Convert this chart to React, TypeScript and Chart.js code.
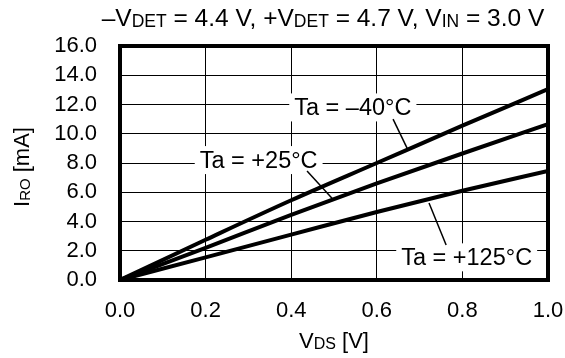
import React, { useEffect, useRef } from "react";
import { Chart, registerables } from "chart.js";

Chart.register(...registerables);

const vds = [0, 0.2, 0.4, 0.6, 0.8, 1.0];
const iroM40 = [0, 2.75, 5.45, 8.0, 10.55, 13.05];
const iroP25 = [0, 2.2, 4.45, 6.6, 8.65, 10.65];
const iroP125 = [0, 1.55, 3.1, 4.65, 6.1, 7.45];

const xTicks = [0, 0.2, 0.4, 0.6, 0.8, 1.0];
const yTicks = [0, 2, 4, 6, 8, 10, 12, 14, 16];

// label text, label centre (V, mA), leader start (V, mA), leader end (V, mA)
const labelTexts = ["Ta = \u201340\u00b0C", "Ta = +25\u00b0C", "Ta = +125\u00b0C"];
const labelCenters = [[0.544, 11.8], [0.324, 8.2], [0.81, 1.55]];
const leaderStarts = [[0.638, 11.0], [0.437, 7.45], [0.722, 5.26]];
const leaderEnds = [[0.671, 9.0], [0.498, 5.5], [0.762, 2.39]];

const FONT = '"Liberation Sans", Arial, Helvetica, sans-serif';

type Part = { t: string; sub?: boolean };
const titleParts: Part[] = [
  { t: "\u2013V" }, { t: "DET", sub: true }, { t: " = 4.4 V, +V" }, { t: "DET", sub: true },
  { t: " = 4.7 V, V" }, { t: "IN", sub: true }, { t: " = 3.0 V" },
];
const xTitleParts: Part[] = [{ t: "V" }, { t: "DS", sub: true }, { t: " [V]" }];
const yTitleParts: Part[] = [{ t: "I" }, { t: "RO", sub: true }, { t: " [mA]" }];

function drawParts(ctx: CanvasRenderingContext2D, parts: Part[], cx: number, baseline: number, size: number, subSize: number) {
  const widths = parts.map((p) => {
    ctx.font = `${p.sub ? subSize : size}px ${FONT}`;
    return ctx.measureText(p.t).width;
  });
  const total = widths.reduce((a, b) => a + b, 0);
  let x = cx - total / 2;
  ctx.textAlign = "left";
  ctx.textBaseline = "alphabetic";
  parts.forEach((p, i) => {
    ctx.font = `${p.sub ? subSize : size}px ${FONT}`;
    ctx.fillText(p.t, x, baseline + (p.sub ? 1 : 0));
    x += widths[i];
  });
}

const decorPlugin = {
  id: "decor",
  afterDatasetsDraw(chart: any) {
    const ctx: CanvasRenderingContext2D = chart.ctx;
    const xs = chart.scales.x;
    const ys = chart.scales.y;
    const ca = chart.chartArea;
    ctx.save();
    ctx.fillStyle = "#000";
    ctx.strokeStyle = "#000";
    // annotations
    labelTexts.forEach((txt, i) => {
      ctx.font = `23.5px ${FONT}`;
      const w = ctx.measureText(txt).width;
      const cx = xs.getPixelForValue(labelCenters[i][0]);
      const cy = ys.getPixelForValue(labelCenters[i][1]);
      ctx.fillStyle = "#fff";
      ctx.fillRect(cx - w / 2 - 5, cy - 14, w + 10, 28);
      ctx.fillStyle = "#000";
      ctx.textAlign = "center";
      ctx.textBaseline = "middle";
      ctx.fillText(txt, cx, cy + 1);
      ctx.lineWidth = 1.5;
      ctx.beginPath();
      ctx.moveTo(xs.getPixelForValue(leaderStarts[i][0]), ys.getPixelForValue(leaderStarts[i][1]));
      ctx.lineTo(xs.getPixelForValue(leaderEnds[i][0]), ys.getPixelForValue(leaderEnds[i][1]));
      ctx.stroke();
    });
    // frame
    ctx.lineWidth = 4;
    ctx.strokeRect(ca.left, ca.top, ca.right - ca.left, ca.bottom - ca.top);
    // titles
    ctx.fillStyle = "#000";
    drawParts(ctx, titleParts, 323, 26, 24.5, 17.5);
    drawParts(ctx, xTitleParts, (ca.left + ca.right) / 2, 348, 22, 16);
    ctx.save();
    ctx.translate(29, 167);
    ctx.rotate(-Math.PI / 2);
    drawParts(ctx, yTitleParts, 0, 0, 22, 15);
    ctx.restore();
    ctx.restore();
  },
};

export default function App() {
  const ref = useRef<HTMLCanvasElement | null>(null);
  useEffect(() => {
    if (!ref.current) return;
    const mk = (vals: number[]) => vds.map((v, i) => ({ x: v, y: vals[i] }));
    const ds = (label: string, vals: number[]) => ({
      label,
      data: mk(vals),
      borderColor: "#000",
      borderWidth: 4,
      pointRadius: 0,
      fill: false,
      cubicInterpolationMode: "monotone" as const,
    });
    const chart = new Chart(ref.current, {
      type: "line",
      data: {
        datasets: [
          ds(labelTexts[0], iroM40),
          ds(labelTexts[1], iroP25),
          ds(labelTexts[2], iroP125),
        ],
      },
      options: {
        animation: false,
        responsive: false,
        maintainAspectRatio: false,
        layout: { padding: { left: 0, top: 46, right: 17, bottom: 0 } },
        plugins: { legend: { display: false }, tooltip: { enabled: false }, title: { display: false } },
        scales: {
          x: {
            type: "linear",
            min: 0,
            max: 1,
            afterFit: (s: any) => { s.height = 78; s.paddingLeft = 0; s.paddingRight = 0; },
            afterBuildTicks: (s: any) => { s.ticks = xTicks.map((v) => ({ value: v })); },
            grid: { color: "#000", lineWidth: 1, drawTicks: false },
            border: { display: false },
            ticks: {
              color: "#000",
              padding: 18,
              autoSkip: false,
              maxRotation: 0,
              font: { family: FONT, size: 22 },
              callback: (v: any) => Number(v).toFixed(1),
            },
          },
          y: {
            type: "linear",
            min: 0,
            max: 16,
            afterFit: (s: any) => { s.width = 120; s.paddingTop = 0; s.paddingBottom = 0; },
            afterBuildTicks: (s: any) => { s.ticks = yTicks.map((v) => ({ value: v })); },
            grid: { color: "#000", lineWidth: 1, drawTicks: false },
            border: { display: false },
            ticks: {
              color: "#000",
              padding: 23,
              autoSkip: false,
              font: { family: FONT, size: 22 },
              callback: (v: any) => Number(v).toFixed(1),
            },
          },
        },
      },
      plugins: [decorPlugin],
    });
    return () => chart.destroy();
  }, []);
  return (
    <div style={{ position: "fixed", left: 0, top: 0, width: 565, height: 358, background: "#fff" }}>
      <canvas ref={ref} width={565} height={358} style={{ width: 565, height: 358, display: "block" }} />
    </div>
  );
}
